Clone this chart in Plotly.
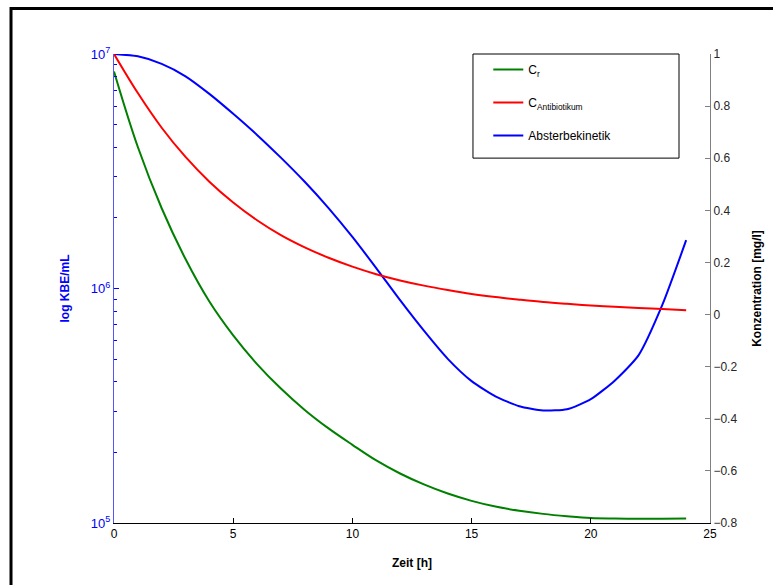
import plotly.graph_objects as go

# Data
zeit = list(range(0, 25))
absterbe_log10 = [7.0, 6.99, 6.958, 6.905, 6.83, 6.745, 6.655, 6.558, 6.455, 6.343, 6.22,
                  6.087, 5.95, 5.82, 5.70, 5.605, 5.54, 5.498, 5.48, 5.485, 5.528,
                  5.607, 5.715, 5.93, 6.206]
absterbe = [10 ** v for v in absterbe_log10]
c_antibiotikum = [1.0, 0.85, 0.717, 0.605, 0.51, 0.43, 0.362, 0.305, 0.258, 0.218, 0.184,
                  0.155, 0.131, 0.111, 0.094, 0.079, 0.067, 0.057, 0.048, 0.041, 0.035,
                  0.03, 0.025, 0.021, 0.017]
c_r = [0.933, 0.643, 0.408, 0.213, 0.05, -0.08, -0.19, -0.284, -0.366, -0.437, -0.50,
       -0.56, -0.61, -0.652, -0.687, -0.715, -0.737, -0.753, -0.765, -0.774, -0.781,
       -0.783, -0.784, -0.784, -0.783]

x_ticks = [0, 5, 10, 15, 20, 25]
y_left_ticks = [1e5, 1e6, 1e7]
y_left_ticktext = ["10<sup>5</sup>", "10<sup>6</sup>", "10<sup>7</sup>"]
y_left_minor = [m * 10 ** e for e in (5, 6) for m in range(2, 10)]
y_right_ticks = [-0.8, -0.6, -0.4, -0.2, 0, 0.2, 0.4, 0.6, 0.8, 1]

FONT = "Liberation Sans, Arial, sans-serif"

fig = go.Figure()
fig.add_trace(go.Scatter(x=zeit, y=c_r, yaxis="y2", mode="lines", name="C<sub>r</sub>",
                         line=dict(color="#008000", width=2, shape="spline", smoothing=1),
                         legendgroup="a"))
fig.add_trace(go.Scatter(x=zeit, y=c_antibiotikum, yaxis="y2", mode="lines",
                         name="C<sub>Antibiotikum</sub>",
                         line=dict(color="#ff0000", width=2, shape="spline", smoothing=1),
                         legendgroup="b"))
fig.add_trace(go.Scatter(x=zeit, y=absterbe, yaxis="y", mode="lines", name="Absterbekinetik",
                         line=dict(color="#0000ff", width=2, shape="spline", smoothing=0.6),
                         legendgroup="c"))

fig.update_layout(
    width=773, height=585,
    margin=dict(l=114, r=63, t=54, b=62),
    paper_bgcolor="white", plot_bgcolor="white",
    font=dict(family=FONT, size=12, color="black"),
    showlegend=True,
    legend=dict(x=0.628, y=0.998, xanchor="left", yanchor="top",
                bgcolor="rgba(0,0,0,0)", borderwidth=0,
                font=dict(family=FONT, size=12, color="black"),
                tracegroupgap=14),
    xaxis=dict(range=[0, 25], tickvals=x_ticks, ticks="inside", ticklen=5,
               tickcolor="black", showline=True, linecolor="black", linewidth=1,
               showgrid=False, zeroline=False, mirror=False,
               tickfont=dict(size=12, color="black"),
               title=dict(text="<b>Zeit [h]</b>", font=dict(size=12, color="black"), standoff=18)),
    yaxis=dict(type="log", range=[5, 7], tickvals=y_left_ticks, ticktext=y_left_ticktext,
               ticks="inside", ticklen=5, tickcolor="#0000ff", showline=True,
               linecolor="#5555ff", linewidth=1, showgrid=False, zeroline=False,
               tickfont=dict(size=13, color="#0000ff"),
               minor=dict(tickvals=y_left_minor, ticks="inside", ticklen=3,
                          tickcolor="#0000ff", showgrid=False),
               title=dict(text="<b>log KBE/mL</b>", font=dict(size=12, color="#0000ff"), standoff=18)),
    yaxis2=dict(overlaying="y", side="right", range=[-0.8, 1], tickvals=y_right_ticks,
                ticks="inside", ticklen=5, tickcolor="#808080", showline=True,
                linecolor="#808080", linewidth=1, showgrid=False, zeroline=False,
                tickfont=dict(size=12, color="#262626"),
                title=dict(text="<b>Konzentration [mg/l]</b>", font=dict(size=12, color="black"), standoff=16)),
    shapes=[
        dict(type="rect", xref="paper", yref="paper", x0=-0.1728, x1=1.2, y0=-0.3, y1=1.097,
             line=dict(color="black", width=3), fillcolor="rgba(0,0,0,0)", layer="above"),
        dict(type="rect", xref="paper", yref="paper", x0=0.6023, x1=0.9480, y0=0.778, y1=1.0,
             line=dict(color="black", width=1), fillcolor="rgba(0,0,0,0)", layer="above"),
    ],
)

fig.write_html("out.html")
